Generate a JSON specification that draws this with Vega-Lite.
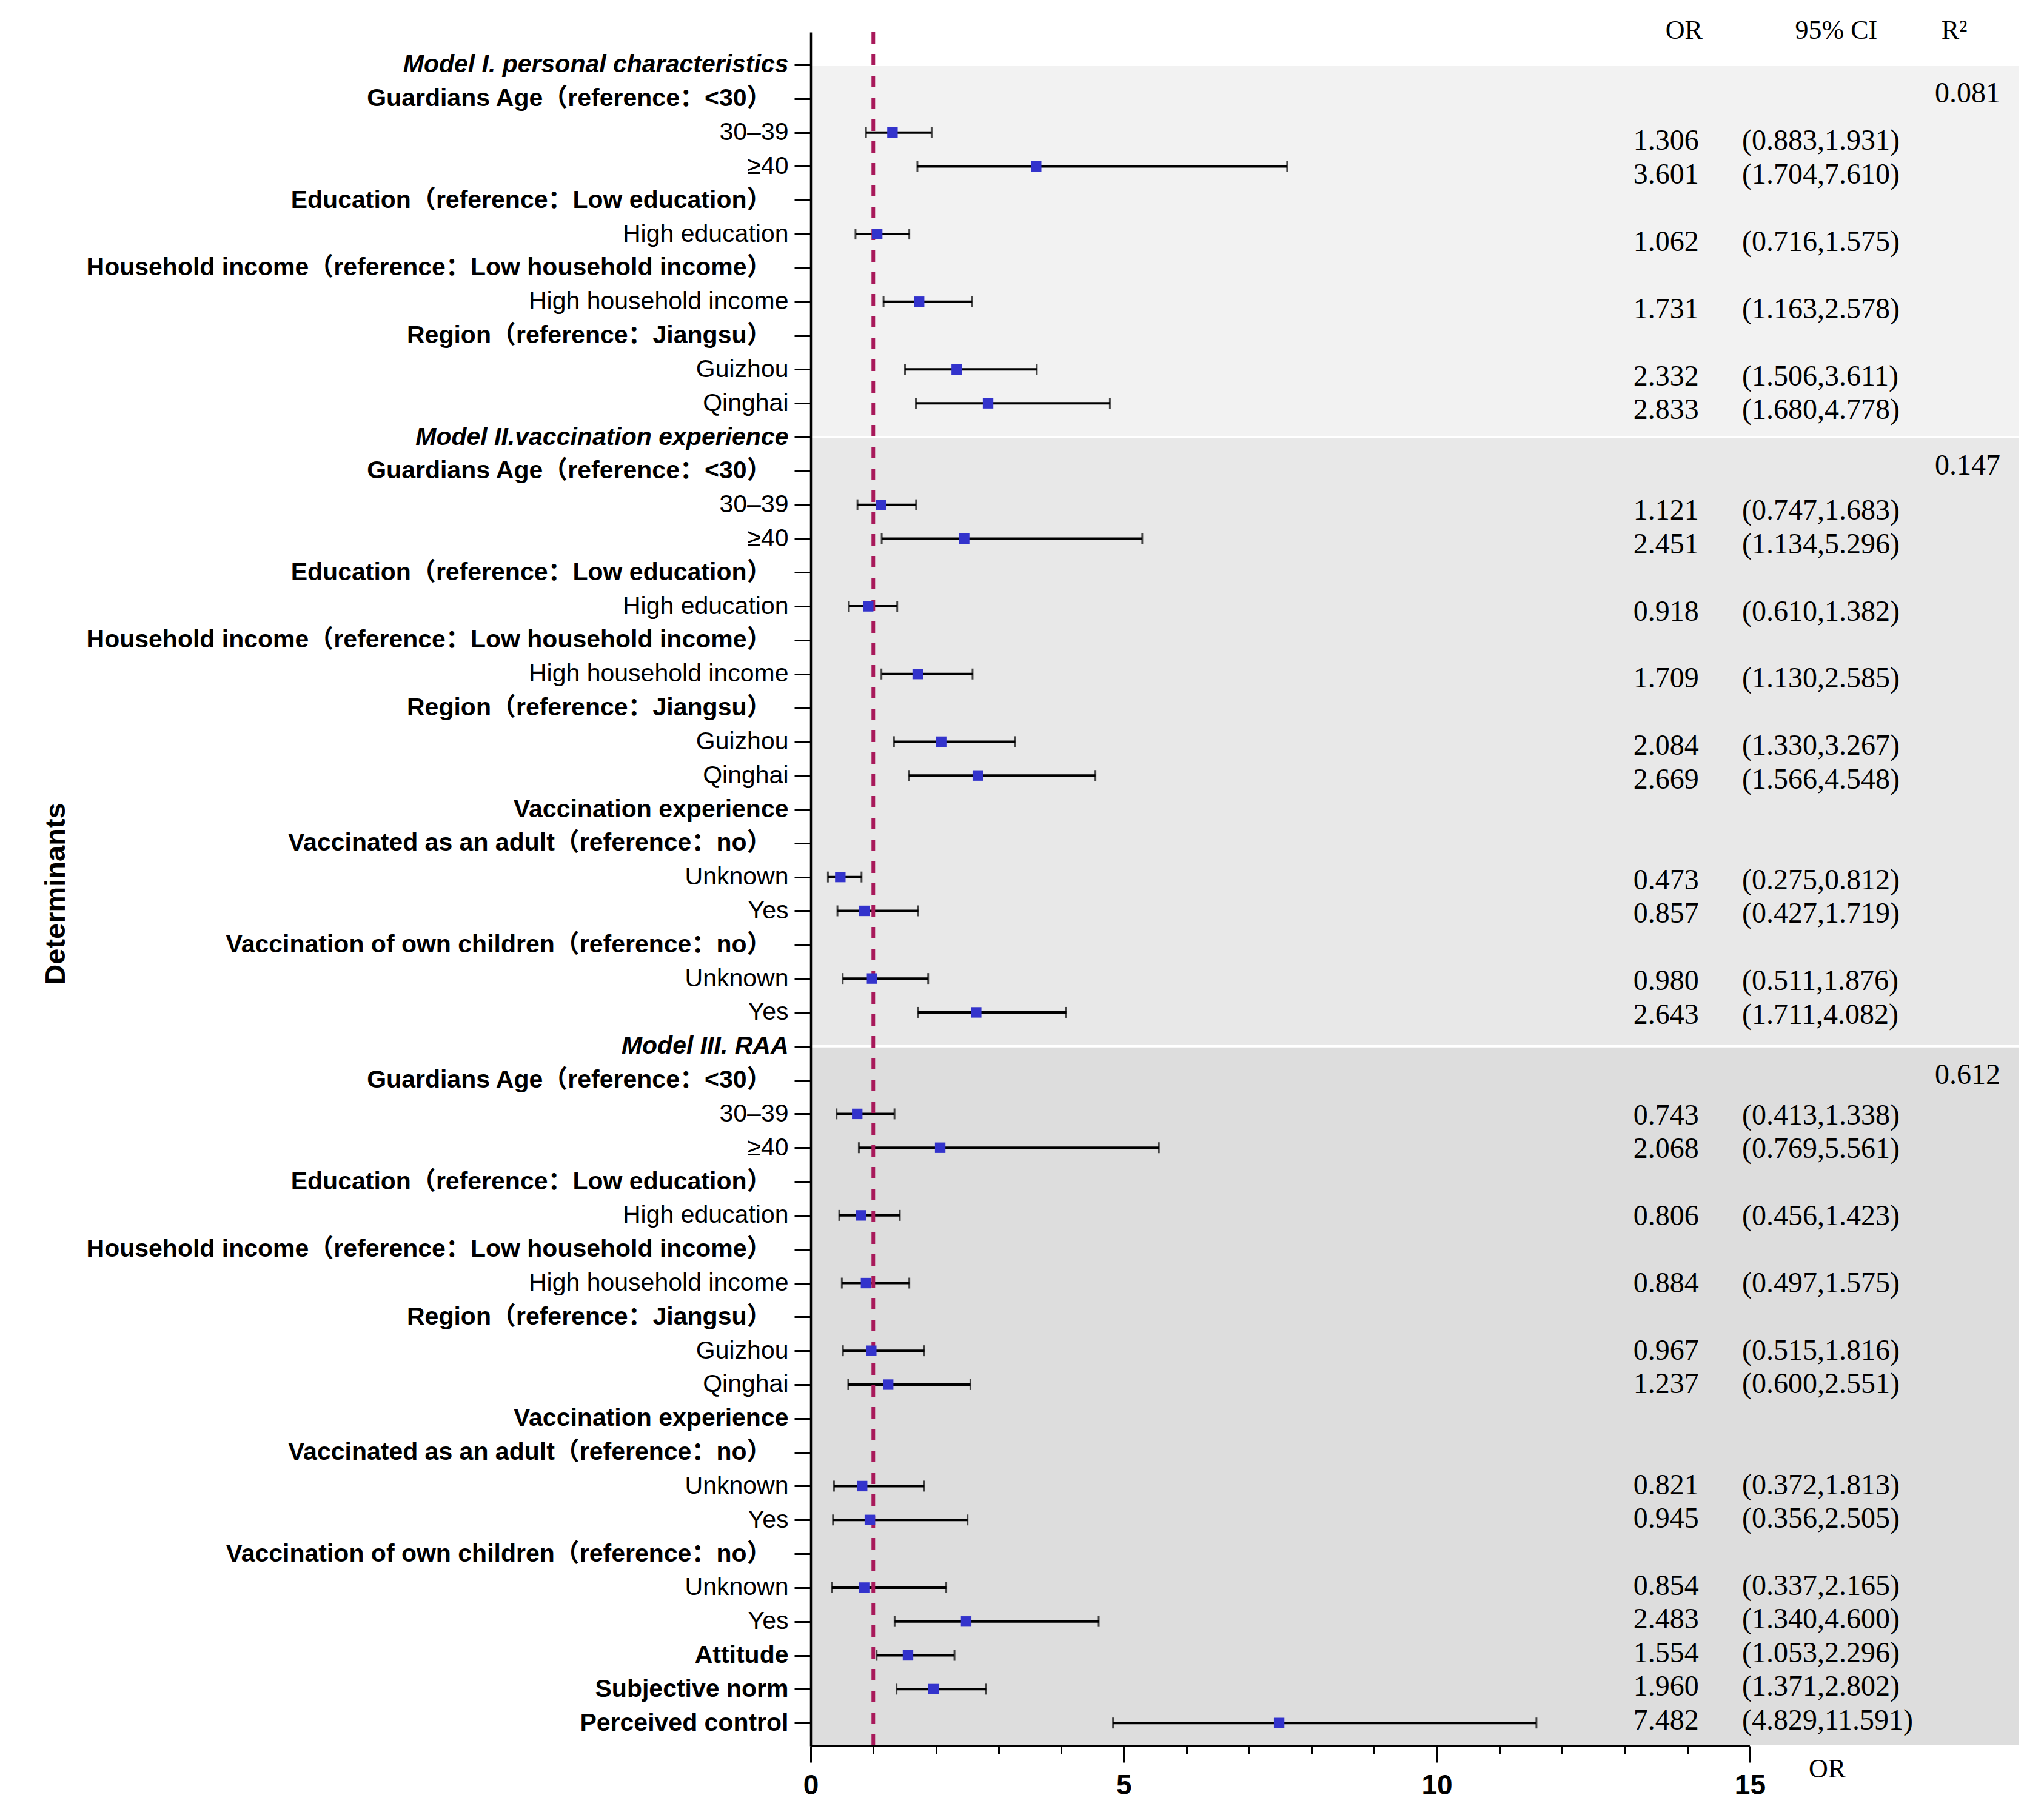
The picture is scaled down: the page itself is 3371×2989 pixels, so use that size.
{
  "$schema": "https://vega.github.io/schema/vega-lite/v6.json",
  "width": 1995,
  "height": 2827,
  "autosize": {"type": "none"},
  "padding": {"left": 1337, "top": 53, "right": 39, "bottom": 109},
  "background": "white",
  "config": {"view": {"stroke": null}},
  "datasets": {
    "rows": [
      {"key": "01|Model I. personal characteristics"},
      {"key": "02|Guardians Age（reference：<30）", "r2": 0.081},
      {"key": "03|30–39", "or": 1.306, "lo": 0.883, "hi": 1.931},
      {"key": "04|≥40", "or": 3.601, "lo": 1.704, "hi": 7.610},
      {"key": "05|Education（reference：Low education）"},
      {"key": "06|High education", "or": 1.062, "lo": 0.716, "hi": 1.575},
      {"key": "07|Household income（reference：Low household income）"},
      {"key": "08|High household income", "or": 1.731, "lo": 1.163, "hi": 2.578},
      {"key": "09|Region（reference：Jiangsu）"},
      {"key": "10|Guizhou", "or": 2.332, "lo": 1.506, "hi": 3.611},
      {"key": "11|Qinghai", "or": 2.833, "lo": 1.680, "hi": 4.778},
      {"key": "12|Model II.vaccination experience"},
      {"key": "13|Guardians Age（reference：<30）", "r2": 0.147},
      {"key": "14|30–39", "or": 1.121, "lo": 0.747, "hi": 1.683},
      {"key": "15|≥40", "or": 2.451, "lo": 1.134, "hi": 5.296},
      {"key": "16|Education（reference：Low education）"},
      {"key": "17|High education", "or": 0.918, "lo": 0.610, "hi": 1.382},
      {"key": "18|Household income（reference：Low household income）"},
      {"key": "19|High household income", "or": 1.709, "lo": 1.130, "hi": 2.585},
      {"key": "20|Region（reference：Jiangsu）"},
      {"key": "21|Guizhou", "or": 2.084, "lo": 1.330, "hi": 3.267},
      {"key": "22|Qinghai", "or": 2.669, "lo": 1.566, "hi": 4.548},
      {"key": "23|Vaccination experience"},
      {"key": "24|Vaccinated as an adult（reference：no）"},
      {"key": "25|Unknown", "or": 0.473, "lo": 0.275, "hi": 0.812},
      {"key": "26|Yes", "or": 0.857, "lo": 0.427, "hi": 1.719},
      {"key": "27|Vaccination of own children（reference：no）"},
      {"key": "28|Unknown", "or": 0.980, "lo": 0.511, "hi": 1.876},
      {"key": "29|Yes", "or": 2.643, "lo": 1.711, "hi": 4.082},
      {"key": "30|Model III. RAA"},
      {"key": "31|Guardians Age（reference：<30）", "r2": 0.612},
      {"key": "32|30–39", "or": 0.743, "lo": 0.413, "hi": 1.338},
      {"key": "33|≥40", "or": 2.068, "lo": 0.769, "hi": 5.561},
      {"key": "34|Education（reference：Low education）"},
      {"key": "35|High education", "or": 0.806, "lo": 0.456, "hi": 1.423},
      {"key": "36|Household income（reference：Low household income）"},
      {"key": "37|High household income", "or": 0.884, "lo": 0.497, "hi": 1.575},
      {"key": "38|Region（reference：Jiangsu）"},
      {"key": "39|Guizhou", "or": 0.967, "lo": 0.515, "hi": 1.816},
      {"key": "40|Qinghai", "or": 1.237, "lo": 0.600, "hi": 2.551},
      {"key": "41|Vaccination experience"},
      {"key": "42|Vaccinated as an adult（reference：no）"},
      {"key": "43|Unknown", "or": 0.821, "lo": 0.372, "hi": 1.813},
      {"key": "44|Yes", "or": 0.945, "lo": 0.356, "hi": 2.505},
      {"key": "45|Vaccination of own children（reference：no）"},
      {"key": "46|Unknown", "or": 0.854, "lo": 0.337, "hi": 2.165},
      {"key": "47|Yes", "or": 2.483, "lo": 1.340, "hi": 4.600},
      {"key": "48|Attitude", "or": 1.554, "lo": 1.053, "hi": 2.296},
      {"key": "49|Subjective norm", "or": 1.960, "lo": 1.371, "hi": 2.802},
      {"key": "50|Perceived control", "or": 7.482, "lo": 4.829, "hi": 11.591}
    ],
    "bands": [
      {"model": "Model I", "start": "01|Model I. personal characteristics", "end": "12|Model II.vaccination experience"},
      {"model": "Model II", "start": "12|Model II.vaccination experience", "end": "30|Model III. RAA"},
      {"model": "Model III", "start": "30|Model III. RAA"}
    ]
  },
  "resolve": {"scale": {"y": "independent"}, "axis": {"x": "independent", "y": "independent"}},
  "layer": [
    {
      "layer": [
        {
          "data": {"name": "bands"},
          "transform": [{"filter": "datum.end != null"}],
          "mark": {"type": "rect", "stroke": "white", "strokeWidth": 4},
          "encoding": {
            "x": {"datum": 0, "type": "quantitative", "title": "OR"},
            "x2": {"value": "width"},
            "y": {
              "field": "start", "type": "nominal", "title": "Determinants",
              "scale": {
                "type": "point", "padding": 0.8225, "align": 0.588,
                "domain": ["01|Model I. personal characteristics","02|Guardians Age（reference：<30）","03|30–39","04|≥40","05|Education（reference：Low education）","06|High education","07|Household income（reference：Low household income）","08|High household income","09|Region（reference：Jiangsu）","10|Guizhou","11|Qinghai","12|Model II.vaccination experience","13|Guardians Age（reference：<30）","14|30–39","15|≥40","16|Education（reference：Low education）","17|High education","18|Household income（reference：Low household income）","19|High household income","20|Region（reference：Jiangsu）","21|Guizhou","22|Qinghai","23|Vaccination experience","24|Vaccinated as an adult（reference：no）","25|Unknown","26|Yes","27|Vaccination of own children（reference：no）","28|Unknown","29|Yes","30|Model III. RAA","31|Guardians Age（reference：<30）","32|30–39","33|≥40","34|Education（reference：Low education）","35|High education","36|Household income（reference：Low household income）","37|High household income","38|Region（reference：Jiangsu）","39|Guizhou","40|Qinghai","41|Vaccination experience","42|Vaccinated as an adult（reference：no）","43|Unknown","44|Yes","45|Vaccination of own children（reference：no）","46|Unknown","47|Yes","48|Attitude","49|Subjective norm","50|Perceived control"]
              },
              "axis": {
                "title": "Determinants",
                "titleFont": "Liberation Sans", "titleFontSize": 47, "titleFontWeight": "bold", "titleColor": "black",
                "titleAngle": 270, "titleX": -1245, "titleY": 1421, "titleAlign": "center", "titleBaseline": "middle",
                "labelExpr": "split(datum.value, '|')[1]",
                "labelFont": "Liberation Sans, Noto Sans CJK SC", "labelFontSize": 41, "labelColor": "black",
                "labelPadding": {"condition": {"test": "indexof(datum.value, '）') >= 0", "value": 38}, "value": 10},
                "labelLimit": 1300, "labelOverlap": false,
                "labelFontWeight": {"condition": {"test": "indexof(['30–39','≥40','High education','High household income','Guizhou','Qinghai','Unknown','Yes'], split(datum.value, '|')[1]) >= 0", "value": "normal"}, "value": "bold"},
                "labelFontStyle": {"condition": {"test": "indexof(datum.value, 'Model') >= 0", "value": "italic"}, "value": "normal"},
                "tickSize": 27, "tickWidth": 3, "tickColor": "black",
                "domainColor": "black", "domainWidth": 3.5, "grid": false, "zindex": 1
              }
            },
            "y2": {"field": "end"},
            "color": {"field": "model", "type": "nominal", "scale": {"domain": ["Model I", "Model II", "Model III"], "range": ["#f2f2f2", "#e8e8e8", "#dddddd"]}, "legend": null}
          }
        },
        {
          "data": {"name": "bands"},
          "transform": [{"filter": "datum.end == null"}],
          "mark": {"type": "rect", "stroke": "white", "strokeWidth": 4},
          "encoding": {
            "x": {"datum": 0, "type": "quantitative", "title": "OR"},
            "x2": {"value": "width"},
            "y": {"field": "start", "type": "nominal", "title": "Determinants"},
            "y2": {"value": "height"},
            "color": {"field": "model", "type": "nominal", "legend": null}
          }
        },
        {
          "data": {"name": "rows"},
          "transform": [{"filter": "datum.or != null"}],
          "mark": {"type": "errorbar", "ticks": {"size": 18, "thickness": 3, "color": "black"}, "rule": {"strokeWidth": 4, "color": "black"}},
          "encoding": {
            "x": {"field": "lo", "type": "quantitative", "title": "OR"},
            "x2": {"field": "hi"},
            "y": {"field": "key", "type": "nominal", "title": "Determinants"}
          }
        },
        {
          "data": {"values": [{"ref": 1}]},
          "mark": {"type": "rule", "color": "#a8195a", "strokeWidth": 6, "strokeDash": [19, 17]},
          "encoding": {"x": {"field": "ref", "type": "quantitative", "title": "OR"}}
        },
        {
          "data": {"values": [{"from": 0, "to": 15}]},
          "mark": {"type": "rule", "color": "black", "strokeWidth": 3.5},
          "encoding": {
            "x": {"field": "from", "type": "quantitative", "title": "OR"},
            "x2": {"field": "to"},
            "y": {"value": "height"}
          }
        },
        {
          "data": {"name": "rows"},
          "transform": [{"filter": "datum.or != null"}],
          "mark": {"type": "square", "size": 300, "color": "#3333cc", "opacity": 1, "filled": true},
          "encoding": {
            "x": {
              "field": "or", "type": "quantitative", "title": "OR",
              "scale": {"domain": [0, 19.32], "nice": false, "zero": false},
              "axis": {
                "values": [0, 1, 2, 3, 4, 5, 6, 7, 8, 9, 10, 11, 12, 13, 14, 15],
                "format": "d",
                "domain": false, "grid": false,
                "tickColor": "black", "tickWidth": 3,
                "tickSize": {"condition": {"test": "datum.value % 5 === 0", "value": 27}, "value": 13},
                "labelExpr": "datum.value % 5 === 0 ? datum.label : ''",
                "labelFont": "Liberation Sans", "labelFontSize": 46, "labelFontWeight": "bold", "labelColor": "black",
                "labelPadding": 16, "labelFlush": false, "labelOverlap": false,
                "title": "OR", "titleFont": "Liberation Serif", "titleFontSize": 44, "titleFontWeight": "normal", "titleColor": "black",
                "titleX": 1676, "titleY": 38, "titleAlign": "center", "titleBaseline": "middle",
                "zindex": 1
              }
            },
            "y": {"field": "key", "type": "nominal", "title": "Determinants"}
          }
        },
        {
          "data": {"name": "rows"},
          "transform": [{"filter": "datum.r2 != null"}],
          "mark": {"type": "text", "align": "right", "baseline": "middle", "dy": -8, "font": "Liberation Serif", "fontSize": 48, "color": "black"},
          "encoding": {
            "x": {"datum": 19.0, "type": "quantitative", "title": "OR"},
            "y": {"field": "key", "type": "nominal", "title": "Determinants"},
            "text": {"field": "r2", "type": "quantitative", "format": ".3f"}
          }
        }
      ]
    },
    {
      "data": {"name": "rows"},
      "transform": [{"filter": "datum.or != null"}],
      "layer": [
        {
          "mark": {"type": "text", "align": "right", "baseline": "middle", "font": "Liberation Serif", "fontSize": 48, "color": "black"},
          "encoding": {
            "x": {
              "datum": 14.186, "type": "quantitative",
              "axis": {
                "orient": "top", "values": [13.944, 16.375, 18.26],
                "labelExpr": "datum.value < 15 ? 'OR' : (datum.value < 17.5 ? '95% CI' : 'R²')",
                "domain": false, "ticks": false, "tickSize": 0, "grid": false,
                "labelFont": "Liberation Serif", "labelFontSize": 44, "labelColor": "black",
                "labelBaseline": "middle", "labelPadding": 3, "labelFlush": false, "labelOverlap": false,
                "title": null
              }
            },
            "y": {
              "field": "key", "type": "nominal",
              "scale": {
                "type": "point", "padding": 1.1706, "align": 0.628,
                "domain": ["01|Model I. personal characteristics","02|Guardians Age（reference：<30）","03|30–39","04|≥40","05|Education（reference：Low education）","06|High education","07|Household income（reference：Low household income）","08|High household income","09|Region（reference：Jiangsu）","10|Guizhou","11|Qinghai","12|Model II.vaccination experience","13|Guardians Age（reference：<30）","14|30–39","15|≥40","16|Education（reference：Low education）","17|High education","18|Household income（reference：Low household income）","19|High household income","20|Region（reference：Jiangsu）","21|Guizhou","22|Qinghai","23|Vaccination experience","24|Vaccinated as an adult（reference：no）","25|Unknown","26|Yes","27|Vaccination of own children（reference：no）","28|Unknown","29|Yes","30|Model III. RAA","31|Guardians Age（reference：<30）","32|30–39","33|≥40","34|Education（reference：Low education）","35|High education","36|Household income（reference：Low household income）","37|High household income","38|Region（reference：Jiangsu）","39|Guizhou","40|Qinghai","41|Vaccination experience","42|Vaccinated as an adult（reference：no）","43|Unknown","44|Yes","45|Vaccination of own children（reference：no）","46|Unknown","47|Yes","48|Attitude","49|Subjective norm","50|Perceived control"]
              },
              "axis": null
            },
            "text": {"field": "or", "type": "quantitative", "format": ".3f"}
          }
        },
        {
          "mark": {"type": "text", "align": "left", "baseline": "middle", "font": "Liberation Serif", "fontSize": 48, "color": "black",
                   "text": {"expr": "'(' + format(datum.lo, '.3f') + ',' + format(datum.hi, '.3f') + ')'"}},
          "encoding": {
            "x": {"datum": 14.874, "type": "quantitative"},
            "y": {"field": "key", "type": "nominal", "axis": null}
          }
        }
      ]
    }
  ]
}
